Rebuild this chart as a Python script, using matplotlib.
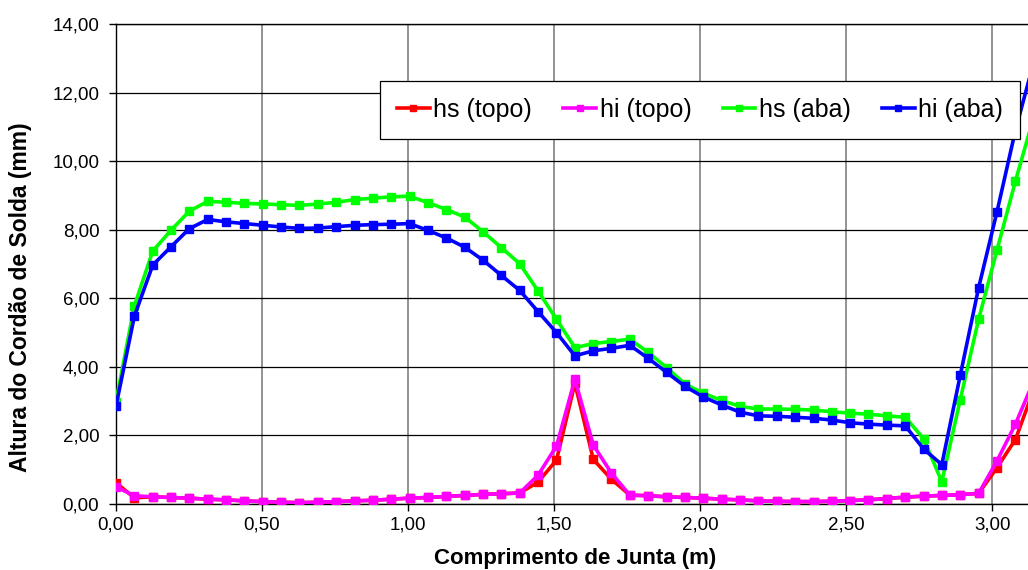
import matplotlib
matplotlib.use("Agg")
import matplotlib.pyplot as plt

plt.rcParams["font.family"] = ["Liberation Sans", "DejaVu Sans"]

# posição ao longo da junta (m)
comprimento = [
    0.000, 0.063, 0.126, 0.188, 0.251, 0.314, 0.377, 0.440, 0.503, 0.565,
    0.628, 0.691, 0.754, 0.817, 0.880, 0.942, 1.005, 1.068, 1.131, 1.194,
    1.257, 1.319, 1.382, 1.445, 1.508, 1.571, 1.634, 1.696, 1.759, 1.822,
    1.885, 1.948, 2.011, 2.073, 2.136, 2.199, 2.262, 2.325, 2.388, 2.450,
    2.513, 2.576, 2.639, 2.702, 2.765, 2.827, 2.890, 2.953, 3.016, 3.079,
    3.142,
]

hs_topo = [
    0.62, 0.18, 0.21, 0.19, 0.17, 0.14, 0.12, 0.09, 0.07, 0.05,
    0.04, 0.05, 0.07, 0.09, 0.11, 0.14, 0.17, 0.19, 0.22, 0.25,
    0.28, 0.30, 0.32, 0.64, 1.28, 3.52, 1.30, 0.72, 0.26, 0.24,
    0.21, 0.19, 0.17, 0.14, 0.12, 0.09, 0.08, 0.07, 0.07, 0.08,
    0.10, 0.12, 0.16, 0.20, 0.23, 0.25, 0.27, 0.31, 1.06, 1.88,
    3.35,
]

hi_topo = [
    0.50, 0.24, 0.21, 0.19, 0.17, 0.14, 0.12, 0.09, 0.07, 0.05,
    0.04, 0.05, 0.07, 0.09, 0.11, 0.14, 0.17, 0.19, 0.22, 0.25,
    0.28, 0.30, 0.32, 0.84, 1.69, 3.64, 1.72, 0.90, 0.26, 0.24,
    0.21, 0.19, 0.17, 0.14, 0.12, 0.09, 0.08, 0.07, 0.07, 0.08,
    0.10, 0.12, 0.16, 0.20, 0.23, 0.25, 0.27, 0.31, 1.26, 2.33,
    3.60,
]

hs_aba = [
    2.98, 5.78, 7.38, 7.98, 8.54, 8.83, 8.80, 8.77, 8.75, 8.73,
    8.71, 8.75, 8.80, 8.88, 8.92, 8.96, 8.98, 8.79, 8.59, 8.37,
    7.94, 7.48, 7.01, 6.21, 5.39, 4.56, 4.68, 4.74, 4.81, 4.42,
    3.98, 3.50, 3.23, 3.02, 2.85, 2.77, 2.77, 2.76, 2.74, 2.69,
    2.65, 2.62, 2.57, 2.53, 1.90, 0.65, 3.04, 5.39, 7.41, 9.42,
    11.30,
]

hi_aba = [
    2.85, 5.48, 6.97, 7.50, 8.03, 8.30, 8.23, 8.18, 8.13, 8.08,
    8.04, 8.05, 8.09, 8.13, 8.15, 8.16, 8.18, 7.98, 7.76, 7.49,
    7.11, 6.67, 6.23, 5.61, 5.00, 4.32, 4.47, 4.54, 4.63, 4.25,
    3.84, 3.43, 3.12, 2.89, 2.68, 2.57, 2.56, 2.53, 2.50, 2.45,
    2.37, 2.33, 2.30, 2.28, 1.60, 1.15, 3.75, 6.31, 8.53, 10.90,
    12.90,
]

series_labels = ["hs (topo)", "hi (topo)", "hs (aba)", "hi (aba)"]
series_colors = ["#FF0000", "#FF00FF", "#00FF00", "#0000FF"]

x_ticks = [0.0, 0.5, 1.0, 1.5, 2.0, 2.5, 3.0]
x_ticklabels = ["0,00", "0,50", "1,00", "1,50", "2,00", "2,50", "3,00"]
y_ticks = [0, 2, 4, 6, 8, 10, 12, 14]
y_ticklabels = ["0,00", "2,00", "4,00", "6,00", "8,00", "10,00", "12,00", "14,00"]


fig = plt.figure(figsize=(10.28, 5.70), dpi=100, facecolor="white")
ax = fig.add_axes([0.1128, 0.1158, 0.8872, 0.842])

for ys, label, color in zip([hs_topo, hi_topo, hs_aba, hi_aba], series_labels, series_colors):
    ax.plot(comprimento, ys, color=color, lw=2.6, marker="s", ms=6.2,
            mfc=color, mec=color, label=label, zorder=3)

ax.set_xlim(0, 3.122)
ax.set_ylim(0, 14)
ax.set_xticks(x_ticks)
ax.set_xticklabels(x_ticklabels, fontsize=13.5)
ax.set_yticks(y_ticks)
ax.set_yticklabels(y_ticklabels, fontsize=13.5)
ax.tick_params(direction="out", length=5, width=1, color="black")
ax.tick_params(axis="y", pad=7)
ax.tick_params(axis="x", pad=4)

ax.yaxis.grid(True, color="black", lw=0.9, zorder=0)
ax.xaxis.grid(True, color="#808080", lw=1.2, zorder=0)
ax.set_axisbelow(True)

ax.spines["right"].set_visible(False)
for side in ["left", "bottom", "top"]:
    ax.spines[side].set_color("black")
    ax.spines[side].set_linewidth(1.0)

ax.set_xlabel("Comprimento de Junta (m)", fontsize=16, weight="bold")
ax.xaxis.set_label_coords(0.503, -0.092)
ax.set_ylabel("Altura do Cordão de Solda (mm)", fontsize=16.5, weight="bold")
ax.yaxis.set_label_coords(-0.092, 0.43)

leg = ax.legend(loc="upper right", bbox_to_anchor=(0.9915, 0.881), ncol=4,
                fontsize=18, frameon=True, fancybox=False, handlelength=1.3,
                handletextpad=0.15, columnspacing=1.25, borderpad=0.68,
                borderaxespad=0, markerscale=0.8)
leg.get_frame().set_edgecolor("black")
leg.get_frame().set_linewidth(0.9)
leg.get_frame().set_alpha(1)

fig.savefig("out.png", dpi=100, facecolor="white")
